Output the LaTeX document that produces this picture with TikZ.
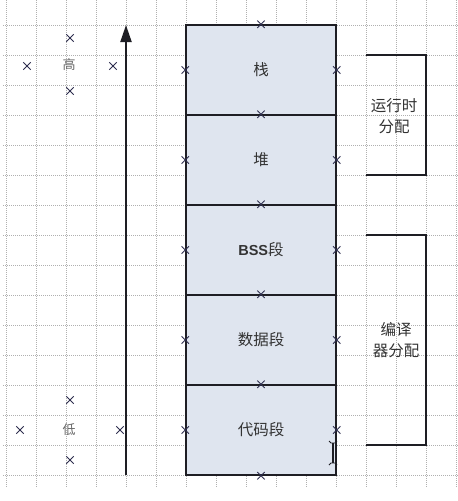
\documentclass[tikz,border=0pt]{standalone}
\usepackage{fontspec}
\newfontfamily\cjk{Noto Sans CJK SC}
\newfontfamily\lat{Liberation Sans}
\usetikzlibrary{shapes.misc,arrows.meta}
\definecolor{gridc}{HTML}{B0B0B0}
\definecolor{segfill}{HTML}{DFE5EF}
\definecolor{inkc}{HTML}{1E1E24}
\definecolor{txtc}{HTML}{333333}
\definecolor{crossc}{HTML}{2E2E4E}
\tikzset{
  gridline/.style={gridc, densely dotted, line width=1pt},
  seg/.style={rectangle, draw=inkc, fill=segfill, line width=1.4pt, minimum width=150pt, minimum height=90pt, inner sep=0pt, font=\cjk\fontsize{15.5}{18}\selectfont, text=txtc},
  xmark/.style={cross out, draw=crossc, line width=0.9pt, minimum size=6.5pt, inner sep=0pt},
  brk/.style={inkc, line width=1.4pt},
  blabel/.style={font=\cjk\fontsize{15.5}{21}\selectfont, text=txtc, align=center},
  slabel/.style={font=\cjk\fontsize{13}{15}\selectfont, text=black!60},
}
\begin{document}
\begin{tikzpicture}[x=1pt,y=-1pt]
\useasboundingbox (0,0) rectangle (458,501);
\fill[white] (0,0) rectangle (458,501);
% grid
\foreach \i in {0,...,15} {
  \draw[gridline] ({6+30*\i},0) -- ({6+30*\i},488);
  \draw[gridline] (3,{25+30*\i}) -- (458,{25+30*\i});
}
% segments
\node[seg] (s1) at (261,70) {栈};
\node[seg] (s2) at (261,160) {堆};
\node[seg] (s3) at (261,250) {\lat\bfseries\fontsize{14.5}{18}\selectfont BSS\cjk\mdseries\fontsize{15.5}{18}\selectfont 段};
\node[seg] (s4) at (261,340) {数据段};
\node[seg] (s5) at (261,430) {代码段};
% connection marks on segments
\foreach \n in {s1,s2,s3,s4,s5} {
  \node[xmark] at (\n.north) {};
  \node[xmark] at (\n.west) {};
  \node[xmark] at (\n.east) {};
}
\node[xmark] (xb) at (s5.south) {};
% address arrow
\coordinate (arrB) at (126,475);
\coordinate (arrT) at (126,25);
\draw[inkc, line width=2pt, -{Triangle[length=17pt,width=11pt]}] (arrB) -- (arrT);
% high / low labels
\node[slabel] (hi) at (69,65) {高};
\node[xmark] (hiN) at (70,38) {};
\node[xmark] (hiW) at (27,66) {};
\node[xmark] (hiE) at (113,66) {};
\node[xmark] (hiS) at (70,91) {};
\node[slabel] (lo) at (69,430) {低};
\node[xmark] (loN) at (70,400) {};
\node[xmark] (loW) at (20,430) {};
\node[xmark] (loE) at (120,430) {};
\node[xmark] (loS) at (70,460) {};
% brackets
\coordinate (r1a) at (366,55);
\coordinate (r1b) at (426,55);
\coordinate (r1c) at (426,175);
\coordinate (r1d) at (366,175);
\draw[brk] (r1a) -- (r1b) -- (r1c) -- (r1d);
\node[blabel] (rt) at (394,116) {运行时\\分配};
\coordinate (r2a) at (366,235);
\coordinate (r2b) at (426,235);
\coordinate (r2c) at (426,445);
\coordinate (r2d) at (366,445);
\draw[brk] (r2a) -- (r2b) -- (r2c) -- (r2d);
\node[blabel] (ct) at (396,340) {编译\\器分配};
% text cursor
\coordinate (cu1) at (333,443);
\coordinate (cu2) at (333,463);
\draw[inkc, line width=1.1pt] (cu1) -- (cu2);
\draw[inkc, line width=0.8pt] (329,441) -- (331,443) -- (335,443) -- (337,441);
\draw[inkc, line width=0.8pt] (329,465) -- (331,463) -- (335,463) -- (337,465);
\end{tikzpicture}
\end{document}
